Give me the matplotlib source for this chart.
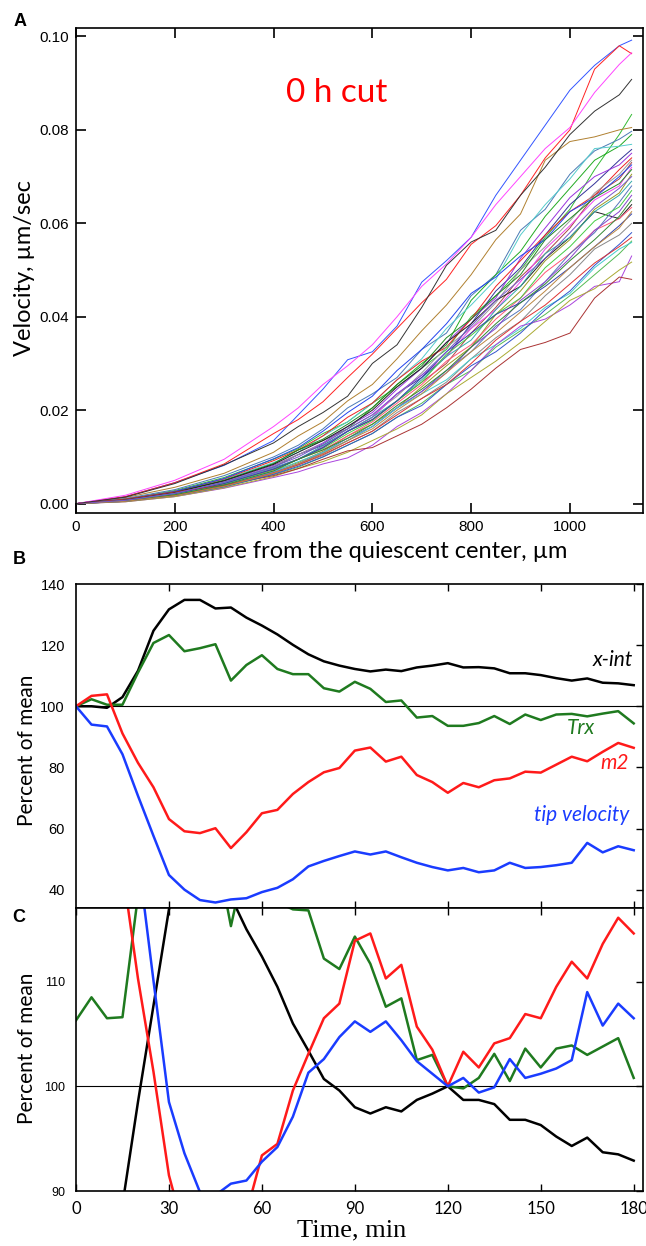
import matplotlib
matplotlib.use("Agg")
import numpy as np
import matplotlib.pyplot as plt

plt.rcParams['font.family'] = ['Liberation Sans', 'DejaVu Sans']

# ---------------- panel A data (velocity, 1e-3 um/sec) ----------------
dist = [0, 100, 200, 300, 400, 450, 500, 550, 600, 650, 700, 750, 800, 850, 900, 950, 1000, 1050, 1100, 1125]

top_curves = [
    ('#3355ff', [0, 1.5, 4.5, 8.2, 13.5, 19, 24.5, 30.8, 32.5, 38, 47.4, 52, 57, 66, 73.5, 81, 88.5, 93.8, 98, 99.2]),
    ('#ff2222', [0, 1.5, 4.5, 8.5, 15, 18, 21.8, 27, 32, 37.5, 43, 48, 55.5, 59.5, 66, 74, 80, 93, 98, 96.3]),
    ('#ff44ff', [0, 1.8, 5, 9.5, 16.5, 20.5, 25.5, 29.5, 34, 40, 46.5, 51.3, 57, 64, 70, 76, 80.5, 88, 94, 96.5]),
    ('#333333', [0, 1.4, 4.3, 8.3, 13, 16.5, 19.5, 23, 30, 34, 42, 51, 56, 58.5, 66, 72, 79, 84, 87.5, 90.8]),
]

bundle_curves = [
    ('#33bb33', [0, 1.0, 2.8, 5.6, 9.5, 11.8, 15, 17.5, 21.5, 25, 29, 33, 40, 44.5, 50, 57, 63, 71.5, 79, 83.3]),
    ('#b08030', [0, 1.3, 3.5, 6.5, 11, 14.5, 17.5, 22, 25.5, 31, 37, 42.5, 49, 56.5, 62, 73.5, 77.5, 78.5, 80, 80.5]),
    ('#4a7ab5', [0, 1.1, 3.0, 6.0, 10, 12.5, 16, 20.5, 23.5, 27, 33, 36.5, 44.5, 49, 58.5, 63, 70.5, 75.5, 78, 79.7]),
    ('#22aa22', [0, 0.9, 2.5, 5.0, 8.5, 11.5, 13.5, 16, 20.5, 25.5, 30, 34, 43.5, 49, 54, 61.5, 67.5, 73.5, 76.5, 79]),
    ('#55cccc', [0, 1.0, 2.6, 5.2, 8.8, 11, 14.5, 17.5, 21.5, 26.5, 31, 37.5, 42.5, 48, 57.5, 64, 69.5, 76, 76.5, 76.9]),
    ('#333399', [0, 0.7, 2.2, 4.6, 7.8, 10.5, 12.5, 15.5, 18.5, 23.5, 27, 31.5, 38.5, 45.5, 50.5, 57.5, 64, 68.5, 73.5, 75.8]),
    ('#9933dd', [0, 0.8, 2.4, 4.8, 8.2, 10.5, 13, 16.5, 19.5, 24.5, 29, 34.5, 39.5, 44, 52.5, 59, 65.5, 70, 72.5, 75]),
    ('#ee2222', [0, 0.9, 2.6, 5.3, 9.2, 11.5, 14.5, 18.5, 21.5, 26.5, 30.5, 33.5, 39.5, 46.5, 52, 57.5, 62.5, 66, 71.5, 74]),
    ('#999999', [0, 0.8, 2.3, 4.7, 8, 10.5, 12.8, 16, 19, 23, 28, 33.5, 37.5, 43, 50, 55, 60.5, 66.5, 70.5, 73.5]),
    ('#aa4444', [0, 0.6, 2.0, 4.3, 7.5, 9.5, 12, 15.5, 18, 22, 26, 30, 36.5, 42, 48.5, 53.5, 59, 66, 69.5, 73]),
    ('#2244ee', [0, 0.9, 2.6, 5.4, 9.6, 12, 15.5, 19.5, 23, 28.5, 33, 38.5, 45, 48.5, 53, 56.5, 62.5, 65.5, 70, 72.5]),
    ('#ee44ee', [0, 0.7, 2.1, 4.4, 7.6, 9.5, 12.2, 15.5, 18.5, 23.5, 27.5, 31.5, 37.5, 41.5, 47.5, 54.5, 59.5, 65, 68, 72]),
    ('#228822', [0, 0.8, 2.4, 5.0, 8.6, 11.5, 13.8, 17, 20.5, 25.5, 29.5, 35.5, 39.5, 44.5, 49, 56.5, 61, 65.5, 68.5, 71.5]),
    ('#999922', [0, 0.6, 1.9, 4.0, 7, 8.8, 11.2, 14.5, 17, 20.5, 25, 29.5, 33.5, 40.5, 45.5, 52, 56.5, 63, 66.5, 70.5]),
    ('#222222', [0, 0.8, 2.4, 4.9, 8.4, 11, 13.5, 16.5, 20, 25, 29, 34.5, 38.5, 43.5, 46.5, 52.5, 57, 62.5, 61, 64]),
    ('#33aaaa', [0, 0.7, 2.2, 4.5, 7.7, 9.5, 12.4, 15.5, 18.5, 22, 26.5, 31.5, 35, 41.5, 46.5, 53.5, 57, 62.5, 66, 69]),
    ('#ff5577', [0, 0.6, 2.0, 4.2, 7.2, 9.5, 11.5, 14.5, 17.5, 21.5, 25.5, 30.5, 34, 39.5, 44, 49.5, 53.5, 58.5, 61, 63.4]),
    ('#5577bb', [0, 0.5, 1.8, 3.9, 6.8, 8.5, 11, 14, 16.5, 20.5, 24, 28.5, 32.5, 38, 41.5, 47.5, 53.5, 58, 64.5, 68]),
    ('#44cc44', [0, 0.6, 2.0, 4.2, 7.3, 9.5, 11.8, 15, 17.8, 22, 26, 32, 36, 40.5, 44, 50.5, 55, 60.5, 63.5, 67]),
    ('#8844cc', [0, 0.5, 1.8, 3.8, 6.6, 8.5, 10.8, 13.5, 16.5, 20.5, 24, 28, 33.5, 37.5, 43.5, 47.5, 52.5, 58.5, 62.5, 66]),
    ('#3344aa', [0, 0.7, 2.1, 4.3, 7.4, 9.5, 12, 15.5, 18, 22, 27, 32.5, 36.5, 40.5, 43, 46.5, 50.5, 55, 59.5, 62]),
    ('#888888', [0, 0.5, 1.7, 3.7, 6.4, 8.3, 10.3, 13, 15.5, 19.5, 22.5, 26, 31, 35.5, 39, 44.5, 49, 54.5, 57.5, 60]),
    ('#55bb55', [0, 0.5, 1.7, 3.6, 6.2, 7.8, 10, 12.5, 15, 18.5, 21.5, 25.5, 28.5, 33.5, 37, 40.5, 44.5, 49, 53.5, 56.2]),
    ('#44cccc', [0, 0.6, 1.9, 4.0, 6.9, 9, 11, 13.5, 16.5, 20.5, 23.5, 26.5, 31, 34, 37.5, 42, 45, 50.5, 54.5, 55.9]),
    ('#aa44dd', [0, 0.4, 1.5, 3.3, 5.6, 6.8, 8.5, 9.8, 12.5, 16.5, 19.5, 23.5, 28.5, 34, 38, 39.5, 42.5, 46.5, 47.5, 53]),
    ('#aaaa33', [0, 0.4, 1.5, 3.4, 5.8, 7.5, 9, 11, 13.5, 16, 19, 23.5, 27, 30.5, 34.5, 39, 43.5, 46, 50, 51.7]),
    ('#aa3333', [0, 1.0, 2.5, 4.0, 6.0, 7.5, 9.5, 11.3, 12, 14.5, 17, 20.5, 24.5, 29, 33, 34.5, 36.5, 44, 48.5, 48]),
    ('#3355cc', [0, 0.5, 1.7, 3.6, 6.3, 8, 10, 12.5, 15, 18.5, 21, 25.5, 29.5, 32.5, 36.5, 41.5, 45.5, 51, 55.5, 58]),
    ('#dd3333', [0, 0.6, 1.8, 3.8, 6.6, 8.3, 10.5, 13, 15.5, 19, 22.5, 25.5, 30, 35, 39, 42.5, 47, 51.5, 55, 57]),
    ('#338833', [0, 0.6, 1.9, 4.0, 7.0, 9.5, 11.5, 14, 17, 21, 24.5, 28.5, 33.5, 38.5, 43, 47, 52, 56.5, 61.5, 65]),
    ('#bb8844', [0, 0.5, 1.7, 3.7, 6.5, 8.5, 10.7, 13.5, 16, 20, 23.5, 28, 32.5, 36.5, 41, 45.5, 50.5, 55, 59, 62.5]),
    ('#7755cc', [0, 0.7, 2.2, 4.6, 7.9, 10, 12.8, 16, 19, 23.5, 27.5, 32.5, 38, 43.5, 48, 52.5, 58, 63.5, 67.5, 70]),
]

# ---------------- panels B and C data (percent of mean) ----------------
time = list(range(0, 181, 5))

xint_b = [100, 100, 99.5, 103, 111.6, 124.7, 131.7, 134.8, 134.8, 132, 132.3, 129, 126.4, 123.5, 120.1,
          117, 114.7, 113.3, 112.2, 111.4, 112, 111.5, 112.7, 113.3, 114.1, 112.7, 112.8, 112.4, 110.8,
          110.8, 110.2, 109.2, 108.4, 109.1, 107.7, 107.5, 106.9]
trx_b = [100, 102.3, 100.5, 100.5, 111, 120.7, 123.3, 118, 119, 120.3, 108.4, 113.5, 116.7, 112.2, 110.5,
         110.5, 105.9, 104.8, 108, 105.7, 101.4, 101.9, 96.3, 96.8, 93.6, 93.6, 94.5, 96.8, 94.2, 97.3,
         95.5, 97.3, 97.5, 96.7, 97.6, 98.4, 94.4]
m2_b = [100, 103.4, 103.9, 91.1, 81.5, 73.5, 63.1, 59.1, 58.5, 60.1, 53.6, 58.8, 65, 66.1, 71.3, 75.2,
        78.4, 79.8, 85.5, 86.5, 81.9, 83.5, 77.5, 75.2, 71.7, 74.9, 73.5, 75.8, 76.4, 78.6, 78.3, 80.9,
        83.5, 82, 85.1, 88, 86.4]
tip_b = [100, 94, 93.4, 84.3, 70.7, 57.6, 44.8, 40, 36.6, 35.8, 36.8, 37.2, 39.2, 40.6, 43.4, 47.6, 49.4,
         51, 52.5, 51.5, 52.5, 50.6, 48.8, 47.4, 46.3, 47.1, 45.7, 46.3, 48.8, 47.1, 47.4, 48, 48.8, 55.3,
         52.2, 54.2, 52.9]

xint_c = [87.6, 87.6, 87.2, 88.7, 98.5, 107.7, 116.9, 120, 120.5, 119, 118.1, 115, 112.4, 109.5, 106,
          103.4, 100.7, 99.6, 98, 97.4, 98, 97.6, 98.7, 99.3, 100, 98.7, 98.7, 98.3, 96.8, 96.8, 96.3,
          95.2, 94.3, 95.1, 93.7, 93.5, 92.9]
trx_c = [106.3, 108.5, 106.5, 106.6, 118.2, 128, 131, 126, 127, 123, 115.3, 122, 124, 117.6, 116.9,
         116.8, 112.2, 111.2, 114.3, 111.7, 107.6, 108.4, 102.5, 103, 100, 99.8, 100.8, 103.1, 100.5,
         103.6, 101.8, 103.6, 103.9, 103, 103.8, 104.6, 100.8]
m2_c = [135, 140, 140, 120.8, 110.3, 101.4, 91.5, 86, 84, 84.5, 82, 87.9, 93.4, 94.5, 99.6, 103.1, 106.5,
        107.9, 113.9, 114.6, 110.3, 111.6, 105.7, 103.5, 100, 103.3, 101.8, 104.1, 104.6, 106.9, 106.5,
        109.5, 111.9, 110.3, 113.6, 116.1, 114.6]
tip_c = [140, 135, 134, 128, 122, 110.1, 98.5, 93.6, 89.9, 89.6, 90.7, 91, 92.8, 94.2, 97.1, 101.3, 102.6,
         104.7, 106.2, 105.2, 106.2, 104.4, 102.4, 101.2, 100, 100.8, 99.4, 99.9, 102.6, 100.8, 101.2,
         101.7, 102.5, 109, 105.8, 107.9, 106.5]

c_black = '#000000'
c_green = '#1f7a1f'
c_red = '#ff1a1a'
c_blue = '#1a3cff'

W, H = 646, 1246
fig = plt.figure(figsize=(W / 100, H / 100), dpi=100)


def box(left, top, right, bottom):
    return [left / W, 1 - bottom / H, (right - left) / W, (bottom - top) / H]


def px(x, y):
    return x / W, 1 - y / H


label_font = ['Lato', 'DejaVu Sans']

# ---------------- panel A ----------------
axA = fig.add_axes(box(76, 28, 643, 513))
for color, vals in bundle_curves + top_curves:
    axA.plot(dist, np.array(vals) / 1000, color=color, lw=0.7)
axA.set_xlim(0, 1148)
axA.set_ylim(-0.002, 0.1018)
axA.set_xticks([0, 200, 400, 600, 800, 1000])
axA.set_yticks([0.0, 0.02, 0.04, 0.06, 0.08, 0.10])
axA.set_yticklabels(['0.00', '0.02', '0.04', '0.06', '0.08', '0.10'])
axA.tick_params(direction='in', length=7, width=1.2, top=True, right=True, labelsize=11, pad=5)
axA.text(0.46, 0.865, '0 h cut', transform=axA.transAxes, color='#ff0000', fontsize=24,
         family=label_font, ha='center', va='center')

# ---------------- panel B ----------------
axB = fig.add_axes(box(76, 584, 643, 908))
axB.axhline(100, color='black', lw=0.8)
axB.plot(time, xint_b, color=c_black, lw=1.8)
axB.plot(time, trx_b, color=c_green, lw=1.8)
axB.plot(time, m2_b, color=c_red, lw=1.8)
axB.plot(time, tip_b, color=c_blue, lw=1.8)
axB.set_xlim(0, 183)
axB.set_ylim(34, 140)
axB.set_xticks([30, 60, 90, 120, 150, 180])
axB.set_yticks([40, 60, 80, 100, 120, 140])
axB.tick_params(direction='in', length=5, width=1.0, top=True, right=True, labelbottom=False,
                labelsize=10.5, pad=8)
axB.tick_params(axis='y', which='both', left=False)
for txt, col, xr, yc in [('x-int', c_black, 633, 660), ('Trx', c_green, 595, 728),
                         ('m2', c_red, 629, 763), ('tip velocity', c_blue, 629, 815)]:
    fig.text(*px(xr, yc), txt, color=col, fontsize=15, style='italic', family=label_font,
             ha='right', va='center')

# ---------------- panel C ----------------
axC = fig.add_axes(box(76, 908, 643, 1191))
axC.axhline(100, color='black', lw=0.8)
axC.plot(time, xint_c, color=c_black, lw=1.8)
axC.plot(time, trx_c, color=c_green, lw=1.8)
axC.plot(time, m2_c, color=c_red, lw=1.8)
axC.plot(time, tip_c, color=c_blue, lw=1.8)
axC.set_xlim(0, 183)
axC.set_ylim(90, 117.03)
axC.set_xticks([0, 30, 60, 90, 120, 150, 180])
axC.set_yticks([90, 100, 110])
axC.tick_params(direction='in', length=5, width=1.0, top=True, right=True, pad=7)
axC.tick_params(axis='y', left=False, labelsize=9, pad=8)
for lab in axC.get_xticklabels():
    lab.set_fontfamily(label_font)
    lab.set_fontsize(12)

for ax in (axA, axB, axC):
    for sp in ax.spines.values():
        sp.set_linewidth(1.2)

# ---------------- labels ----------------
fig.text(*px(362, 551), 'Distance from the quiescent center, \u00b5m', fontsize=17, family=label_font,
         ha='center', va='center')
fig.text(*px(25, 268), 'Velocity, \u00b5m/sec', fontsize=17, family=label_font, rotation=90,
         ha='center', va='center')
fig.text(*px(27, 750), 'Percent of mean', fontsize=15, family=label_font, rotation=90,
         ha='center', va='center')
fig.text(*px(27, 1048), 'Percent of mean', fontsize=15, family=label_font, rotation=90,
         ha='center', va='center')
fig.text(*px(352, 1230), 'Time, min', fontsize=19, family=['Liberation Serif', 'DejaVu Serif'],
         ha='center', va='center')

for letter, x, y in [('A', 20, 21), ('B', 19, 560), ('C', 19, 917)]:
    fig.text(*px(x, y), letter, fontsize=13, fontweight='bold', family=['Liberation Sans', 'DejaVu Sans'],
             ha='center', va='center')

fig.savefig('out.png', dpi=100)
